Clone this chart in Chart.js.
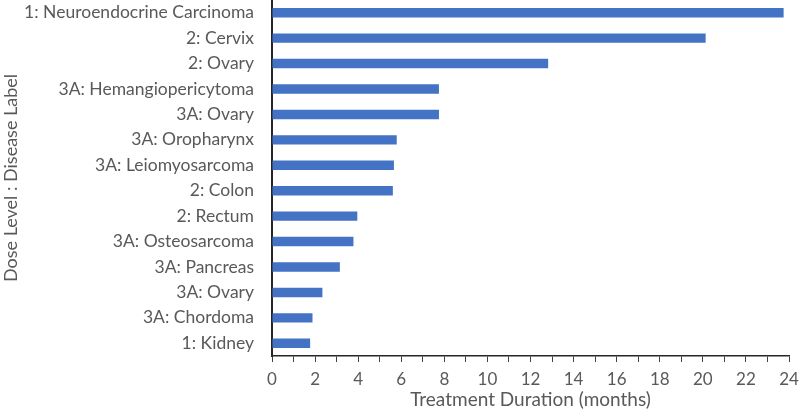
<!DOCTYPE html>
<html>
<head>
<meta charset="utf-8">
<script src="https://cdn.jsdelivr.net/npm/chart.js@4.4.0/dist/chart.umd.min.js"></script>
<style>
    html, body { margin: 0; padding: 0; background: #fff; }
    #wrap { width: 800px; height: 420px; }
</style>
</head>
<body>
<div id="wrap"><canvas id="myChart" width="800" height="420"></canvas></div>
<script>
// top to bottom as in the picture
const labels = [
    "1: Neuroendocrine Carcinoma",
    "2: Cervix",
    "2: Ovary",
    "3A: Hemangiopericytoma",
    "3A: Ovary",
    "3A: Oropharynx",
    "3A: Leiomyosarcoma",
    "2: Colon",
    "2: Rectum",
    "3A: Osteosarcoma",
    "3A: Pancreas",
    "3A: Ovary",
    "3A: Chordoma",
    "1: Kidney"
]
const durations = [23.75, 20.13, 12.82, 7.75, 7.75, 5.79, 5.66, 5.61, 3.96, 3.78, 3.15, 2.34, 1.88, 1.77]
const xMin = 0
const xMax = 24

const textColor = '#595959'
const fontFamily = 'Lato, "Open Sans", sans-serif'

// the built-in y labels reserve half a line above the first bar, so they are drawn here instead
const yLabelPlugin = {
    id: 'yLabels',
    afterDraw(chart) {
        const ctx = chart.ctx
        const y = chart.scales.y
        ctx.save()
        ctx.font = '17.5px ' + fontFamily
        ctx.fillStyle = textColor
        ctx.textAlign = 'right'
        ctx.textBaseline = 'middle'
        labels.forEach((l, i) => ctx.fillText(l, y.right - 18, y.getPixelForValue(i)))
        ctx.restore()
    }
}

const ctx = document.getElementById('myChart')
const myChart = new Chart(ctx, {
    type: 'bar',
    data: {
        labels: labels,
        datasets: [{
            label: 'Treatment Duration',
            data: durations,
            backgroundColor: '#4472C4',
            borderWidth: 0,
            barPercentage: 0.37,
            categoryPercentage: 1
        }]
    },
    options: {
        indexAxis: 'y',
        responsive: false,
        animation: false,
        layout: { padding: { top: 0, right: 0, bottom: 9, left: 0 } },
        plugins: {
            legend: { display: false },
            tooltip: { enabled: false }
        },
        scales: {
            x: {
                min: xMin,
                max: xMax,
                border: { display: true, color: '#262626', width: 1.5 },
                grid: { drawOnChartArea: false, drawTicks: true, tickLength: 6, color: '#404040', tickWidth: 1 },
                afterFit: (axis) => {
                    axis.paddingRight = 11
                    axis.height = 55
                },
                ticks: {
                    stepSize: 1,
                    autoSkip: false,
                    maxRotation: 0,
                    color: textColor,
                    padding: 7,
                    font: { family: fontFamily, size: 17 },
                    callback: (v) => v % 2 === 0 ? v : ''
                },
                title: {
                    display: true,
                    text: 'Treatment Duration (months)',
                    color: textColor,
                    padding: { top: 0, bottom: 0 },
                    font: { family: fontFamily, size: 19 }
                }
            },
            y: {
                border: { display: true, color: '#262626', width: 2 },
                grid: { display: false, drawTicks: false },
                afterFit: (axis) => { axis.width = 272 },
                ticks: { display: false, autoSkip: false },
                title: {
                    display: true,
                    text: 'Dose Level : Disease Label',
                    color: textColor,
                    padding: { top: 0, bottom: 0 },
                    font: { family: fontFamily, size: 18 }
                }
            }
        }
    },
    plugins: [yLabelPlugin]
})
</script>
</body>
</html>
